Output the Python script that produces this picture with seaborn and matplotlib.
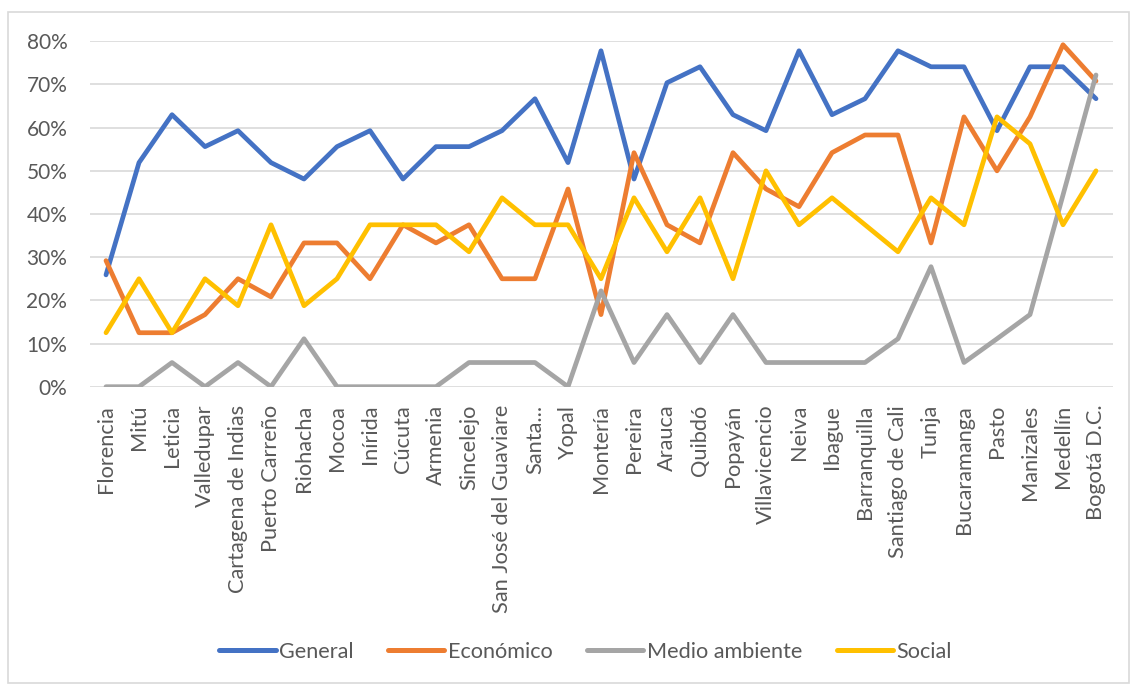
import matplotlib
matplotlib.use("Agg")
import matplotlib.pyplot as plt
import seaborn as sns
import pandas as pd
from matplotlib.patches import Rectangle
from matplotlib.ticker import PercentFormatter

ciudades = ["Florencia", "Mitú", "Leticia", "Valledupar", "Cartagena de Indias",
            "Puerto Carreño", "Riohacha", "Mocoa", "Inírida", "Cúcuta", "Armenia",
            "Sincelejo", "San José del Guaviare", "Santa...", "Yopal", "Montería",
            "Pereira", "Arauca", "Quibdó", "Popayán", "Villavicencio", "Neiva",
            "Ibague", "Barranquilla", "Santiago de Cali", "Tunja", "Bucaramanga",
            "Pasto", "Manizales", "Medellín", "Bogotá D.C."]

general = [25.9, 51.9, 63.0, 55.6, 59.3, 51.9, 48.1, 55.6, 59.3, 48.1, 55.6,
           55.6, 59.3, 66.7, 51.9, 77.8, 48.1, 70.4, 74.1, 63.0, 59.3, 77.8,
           63.0, 66.7, 77.8, 74.1, 74.1, 59.3, 74.1, 74.1, 66.7]
economico = [29.2, 12.5, 12.5, 16.7, 25.0, 20.8, 33.3, 33.3, 25.0, 37.5, 33.3,
             37.5, 25.0, 25.0, 45.8, 16.7, 54.2, 37.5, 33.3, 54.2, 45.8, 41.7,
             54.2, 58.3, 58.3, 33.3, 62.5, 50.0, 62.5, 79.2, 70.8]
medio_ambiente = [0.0, 0.0, 5.6, 0.0, 5.6, 0.0, 11.1, 0.0, 0.0, 0.0, 0.0,
                  5.6, 5.6, 5.6, 0.0, 22.2, 5.6, 16.7, 5.6, 16.7, 5.6, 5.6,
                  5.6, 5.6, 11.1, 27.8, 5.6, 11.1, 16.7, 44.4, 72.2]
social = [12.5, 25.0, 12.5, 25.0, 18.75, 37.5, 18.75, 25.0, 37.5, 37.5, 37.5,
          31.25, 43.75, 37.5, 37.5, 25.0, 43.75, 31.25, 43.75, 25.0, 50.0, 37.5,
          43.75, 37.5, 31.25, 43.75, 37.5, 62.5, 56.25, 37.5, 50.0]

series = {"General": general, "Económico": economico,
          "Medio ambiente": medio_ambiente, "Social": social}
colores = ["#4472C4", "#ED7D31", "#A5A5A5", "#FFC000"]

rows = []
for name, vals in series.items():
    for c, v in zip(ciudades, vals):
        rows.append({"Ciudad": c, "Valor": v / 100.0, "Serie": name})
df = pd.DataFrame(rows)

sns.set_theme(style="white")
plt.rcParams["font.family"] = ["Lato", "DejaVu Sans"]

fig = plt.figure(figsize=(11.31, 6.84), dpi=100)
ax = fig.add_axes([89.5 / 1131, 1 - 386.7 / 684, (1112.5 - 89.5) / 1131, (386.7 - 41.3) / 684])

sns.lineplot(data=df, x="Ciudad", y="Valor", hue="Serie", palette=colores,
             sort=False, linewidth=3.4, ax=ax, legend=True, zorder=3)

ax.set_xlim(-0.5, len(ciudades) - 0.5)
ax.set_ylim(0, 0.8)
ax.set_yticks([i / 10 for i in range(9)])
ax.yaxis.set_major_formatter(PercentFormatter(1.0, decimals=0))
ax.grid(axis="y", color="#D9D9D9", linewidth=1.2, zorder=0)
ax.grid(axis="x", visible=False)
for s in ax.spines.values():
    s.set_visible(False)
ax.set_xlabel("")
ax.set_ylabel("")
ax.tick_params(axis="y", length=0, pad=16, labelsize=15, labelcolor="#595959")
ax.tick_params(axis="x", length=0, pad=13, labelsize=15.7, labelcolor="#595959")
ax.set_xticks(range(len(ciudades)))
ax.set_xticklabels(ciudades, rotation=90, ha="center", va="top")

handles, labels = ax.get_legend_handles_labels()
ax.get_legend().remove()
leg = fig.legend(handles, labels, loc="center", bbox_to_anchor=(585.5 / 1131, 0.047),
                 ncol=4, frameon=False, fontsize=15.6, handlelength=2.6,
                 handletextpad=0.15, columnspacing=1.6)
for t in leg.get_texts():
    t.set_color("#595959")
for h in leg.get_lines():
    h.set_linewidth(3.6)

fig.patches.append(Rectangle((8 / 1131, 1 / 684), 1121 / 1131, (684 - 13) / 684,
                             transform=fig.transFigure, fill=False,
                             edgecolor="#D9D9D9", linewidth=1.2))

fig.savefig("out.png", dpi=100)
